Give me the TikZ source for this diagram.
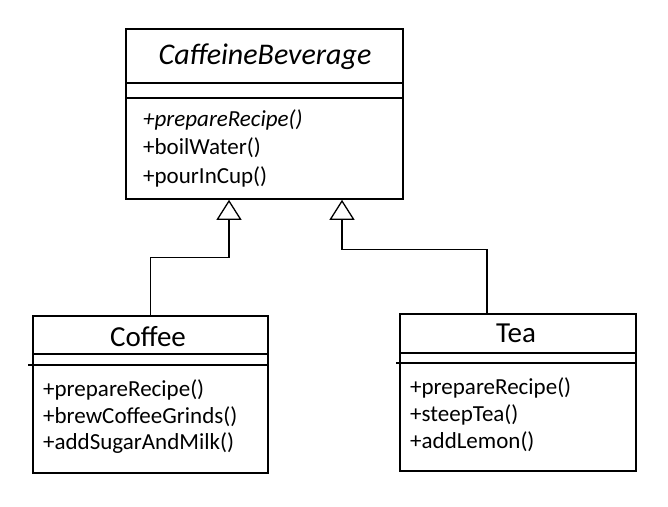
\documentclass[tikz,border=0pt]{standalone}
\usepackage{fontspec}
\setmainfont{Carlito}
\usetikzlibrary{arrows.meta,calc}
\begin{document}
\begin{tikzpicture}[x=1pt,y=-1pt,
 box/.style={draw, line width=1.8pt, inner sep=0pt, anchor=north west},
 divider/.style={line width=1.2pt},
 title/.style={font=\fontsize{29}{30}\selectfont, inner sep=0pt},
 meth/.style={font=\fontsize{23}{28}\selectfont, anchor=west, inner sep=0pt},
 gen/.style={line width=1.3pt, -{Triangle[open, width=25pt, length=20pt, line width=1.3pt]}}]
\useasboundingbox (0,0) rectangle (668,506);
% CaffeineBeverage
\node[box, minimum width=277pt, minimum height=170pt] (cb) at (125,28) {};
\draw[divider] (cb.west |- 0,83) -- (cb.east |- 0,83);
\draw[divider] (cb.west |- 0,98) -- (cb.east |- 0,98);
\node[title, font=\fontsize{30}{30}\selectfont\itshape] (cbt) at (265,57) {CaffeineBeverage};
\node[meth, font=\fontsize{23}{28}\selectfont\itshape] (cb1) at (143,120) {+prepareRecipe()};
\node[meth] (cb2) at (143,148) {+boilWater()};
\node[meth] (cb3) at (143,177) {+pourInCup()};
% Coffee
\node[box, minimum width=235pt, minimum height=157pt] (cf) at (32,315) {};
\draw[divider] (cf.west |- 0,354) -- (cf.east |- 0,354);
\draw[divider] ([xshift=-4pt]cf.west |- 0,365) -- ([xshift=-2pt]cf.east |- 0,365);
\node[title] (cft) at (148,337) {Coffee};
\node[meth] (cf1) at (43,390) {+prepareRecipe()};
\node[meth] (cf2) at (43,417) {+brewCoffeeGrinds()};
\node[meth] (cf3) at (43,443) {+addSugarAndMilk()};
% Tea
\node[box, minimum width=236pt, minimum height=157pt] (tea) at (399,313) {};
\draw[divider] (tea.west |- 0,353) -- (tea.east |- 0,353);
\draw[divider] ([xshift=-3pt]tea.west |- 0,363) -- ([xshift=-2pt]tea.east |- 0,363);
\node[title] (teat) at (516,333) {Tea};
\node[meth] (tea1) at (410,388) {+prepareRecipe()};
\node[meth] (tea2) at (410,415) {+steepTea()};
\node[meth] (tea3) at (410,442) {+addLemon()};
% generalisation connectors
\coordinate (cbL) at (cb.south -| 229,0);
\coordinate (cbR) at (cb.south -| 342,0);
\coordinate (teaIn) at (tea.north -| 487,0);
\draw[gen] (cf.north) |- ($(cbL)+(0,58)$) -- (cbL);
\draw[gen] (teaIn) |- ($(cbR)+(0,50)$) -- (cbR);
\end{tikzpicture}
\end{document}
